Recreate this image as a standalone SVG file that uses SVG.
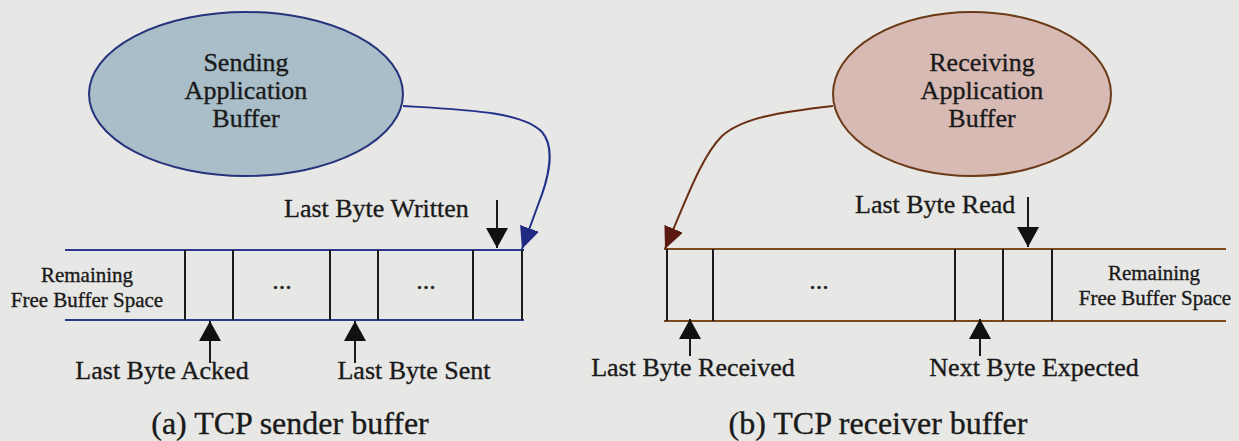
<svg xmlns="http://www.w3.org/2000/svg" width="1239" height="441" viewBox="0 0 1239 441">
  <style>
    text { font-family: "Liberation Serif", "Times New Roman", serif; fill: #1a1a1a; stroke: #1a1a1a; stroke-width: 0.35; }
    .lbl { font-size: 26px; }
    .small { font-size: 21px; }
    .cap { font-size: 32px; }
    .mid { text-anchor: middle; }
    .cell { stroke: #1a1a1a; stroke-width: 2; }
    .rail-s { stroke: #2b3990; stroke-width: 2; }
    .rail-r { stroke: #7b4a1c; stroke-width: 2; }
    .ptr { stroke: #1a1a1a; stroke-width: 2; fill: none; }
  </style>
  <defs>
    <marker id="head-black" viewBox="0 0 20 22" refX="20" refY="11" markerWidth="20" markerHeight="22" markerUnits="userSpaceOnUse" orient="auto">
      <path d="M0,0 L20,11 L0,22 z" fill="#111"/>
    </marker>
    <marker id="head-blue" viewBox="0 0 22 20" refX="22" refY="10" markerWidth="22" markerHeight="20" markerUnits="userSpaceOnUse" orient="auto">
      <path d="M0,0 L22,10 L0,20 z" fill="#1f2a80"/>
    </marker>
    <marker id="head-brown" viewBox="0 0 22 20" refX="22" refY="10" markerWidth="22" markerHeight="20" markerUnits="userSpaceOnUse" orient="auto">
      <path d="M0,0 L22,10 L0,20 z" fill="#5a1a12"/>
    </marker>
  </defs>

  <!-- paper -->
  <rect x="0" y="0" width="1239" height="441" fill="#e7e7e5"/>

  <!-- sending application buffer -->
  <g id="sending-app">
    <ellipse cx="246" cy="94" rx="157" ry="82" fill="#a9bec8" stroke="#26327a" stroke-width="2"/>
    <text class="lbl mid" x="246" y="71">Sending</text>
    <text class="lbl mid" x="246" y="99">Application</text>
    <text class="lbl mid" x="246" y="127">Buffer</text>
  </g>

  <!-- receiving application buffer -->
  <g id="receiving-app">
    <ellipse cx="972" cy="94" rx="139" ry="82" fill="#d8bab5" stroke="#6b3a16" stroke-width="2"/>
    <text class="lbl mid" x="982" y="71">Receiving</text>
    <text class="lbl mid" x="982" y="99">Application</text>
    <text class="lbl mid" x="982" y="127">Buffer</text>
  </g>

  <!-- sender buffer -->
  <g id="sender-buffer">
    <line class="rail-s" x1="65" y1="250" x2="524" y2="250"/>
    <line class="rail-s" x1="65" y1="320" x2="524" y2="320"/>
    <line class="cell" x1="185" y1="250" x2="185" y2="320"/>
    <line class="cell" x1="233" y1="250" x2="233" y2="320"/>
    <line class="cell" x1="330" y1="250" x2="330" y2="320"/>
    <line class="cell" x1="378" y1="250" x2="378" y2="320"/>
    <line class="cell" x1="473" y1="250" x2="473" y2="320"/>
    <line class="cell" x1="522" y1="250" x2="522" y2="320"/>
    <text class="small mid" x="87" y="282">Remaining</text>
    <text class="small mid" x="87" y="307">Free Buffer Space</text>
    <text class="lbl mid" x="282" y="289">...</text>
    <text class="lbl mid" x="426" y="289">...</text>
  </g>

  <!-- receiver buffer -->
  <g id="receiver-buffer">
    <line class="rail-r" x1="664" y1="249" x2="1226" y2="249"/>
    <line class="rail-r" x1="664" y1="321" x2="1226" y2="321"/>
    <line class="cell" x1="667" y1="249" x2="667" y2="321"/>
    <line class="cell" x1="713" y1="249" x2="713" y2="321"/>
    <line class="cell" x1="955" y1="249" x2="955" y2="321"/>
    <line class="cell" x1="1003" y1="249" x2="1003" y2="321"/>
    <line class="cell" x1="1052" y1="249" x2="1052" y2="321"/>
    <text class="small mid" x="1154" y="280">Remaining</text>
    <text class="small mid" x="1155" y="305">Free Buffer Space</text>
    <text class="lbl mid" x="819" y="289">...</text>
  </g>

  <!-- pointers into the buffers -->
  <g id="pointers">
    <line class="ptr" x1="497" y1="200" x2="497" y2="248" marker-end="url(#head-black)"/>
    <text class="lbl" x="284" y="217">Last Byte Written</text>
    <line class="ptr" x1="210" y1="363" x2="210" y2="321" marker-end="url(#head-black)"/>
    <text class="lbl mid" x="162" y="379">Last Byte Acked</text>
    <line class="ptr" x1="355" y1="363" x2="355" y2="321" marker-end="url(#head-black)"/>
    <text class="lbl mid" x="414" y="379">Last Byte Sent</text>

    <line class="ptr" x1="1028" y1="197" x2="1028" y2="247" marker-end="url(#head-black)"/>
    <text class="lbl" x="855" y="213">Last Byte Read</text>
    <line class="ptr" x1="690" y1="356" x2="690" y2="319" marker-end="url(#head-black)"/>
    <text class="lbl mid" x="693" y="376">Last Byte Received</text>
    <line class="ptr" x1="980" y1="356" x2="980" y2="319" marker-end="url(#head-black)"/>
    <text class="lbl mid" x="1034" y="376">Next Byte Expected</text>
  </g>

  <!-- application to buffer connectors -->
  <g id="connectors">
    <path d="M403,106 C470,110 522,112 542,132 C556,148 548,180 538,205 L522,249" fill="none" stroke="#23318a" stroke-width="2" marker-end="url(#head-blue)"/>
    <path d="M833,106 C780,112 742,118 722,136 C702,156 688,195 665,249" fill="none" stroke="#6b3014" stroke-width="2" marker-end="url(#head-brown)"/>
  </g>

  <!-- captions -->
  <text class="cap mid" x="290" y="434">(a) TCP sender buffer</text>
  <text class="cap mid" x="878" y="434">(b) TCP receiver buffer</text>
</svg>
